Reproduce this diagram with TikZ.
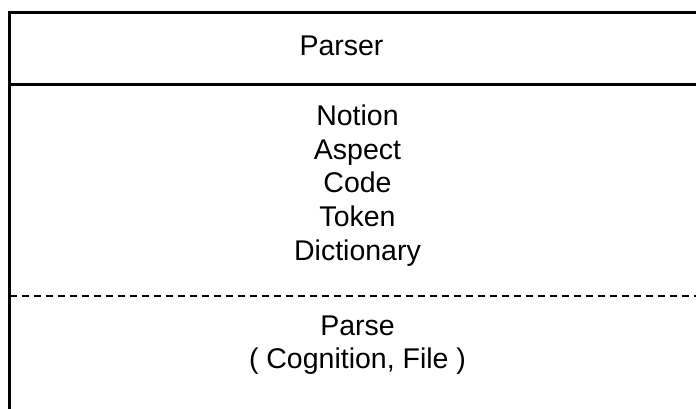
\documentclass[tikz,border=0pt]{standalone}
\usepackage{fontspec}
\setmainfont{Liberation Sans}
\begin{document}
\begin{tikzpicture}[x=1pt,y=-1pt,
  txt/.style={font=\fontsize{28.5}{33.5}\selectfont, inner sep=0pt, anchor=base},
  border/.style={line width=2.5pt},
  sepline/.style={line width=2pt, dash pattern=on 7pt off 5pt}]
\useasboundingbox (0,0) rectangle (696,409);
\clip (0,0) rectangle (696,409);
\coordinate (tl) at (9.5,12.5);
\coordinate (tr) at (720,12.5);
\coordinate (bl) at (9.5,430);
\coordinate (hl) at (9.5,84.5);
\coordinate (hr) at (720,84.5);
\coordinate (dl) at (9.5,296);
\coordinate (dr) at (720,296);
\draw[border] (tr) -- (tl) -- (bl);
\draw[border] (hl) -- (hr);
\draw[sepline] (dl) -- (dr);
\node[txt] (name) at (341.5,56) {Parser};
\node[txt] (a1) at (357.5,126) {Notion};
\node[txt] (a2) at (357.5,159.5) {Aspect};
\node[txt] (a3) at (357.5,193) {Code};
\node[txt] (a4) at (357.5,226.5) {Token};
\node[txt] (a5) at (357.5,260) {Dictionary};
\node[txt] (m1) at (357.5,335) {Parse};
\node[txt] (m2) at (357.5,368) {( Cognition, File )};
\end{tikzpicture}
\end{document}
